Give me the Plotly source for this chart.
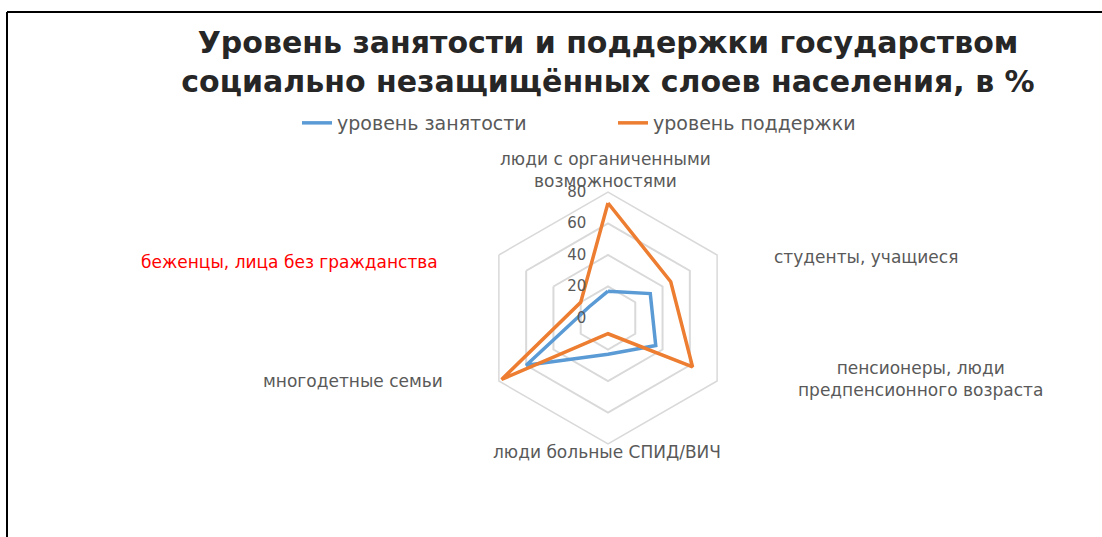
import plotly.graph_objects as go

W, H = 1102, 537

categories = [
    "люди с органиченными возможностями",
    "студенты, учащиеся",
    "пенсионеры, люди предпенсионного возраста",
    "люди больные СПИД/ВИЧ",
    "многодетные семьи",
    "беженцы, лица без гражданства",
]
category_display = [
    "люди с органиченными<br>возможностями",
    "студенты, учащиеся",
    "пенсионеры, люди<br>предпенсионного возраста",
    "люди больные СПИД/ВИЧ",
    "многодетные семьи",
    "беженцы, лица без гражданства",
]
employment = [17, 31, 35, 23, 60, 14]
support = [73, 46, 62, 10, 78, 20]
radial_ticks = [0, 20, 40, 60, 80]
series_names = ["уровень занятости", "уровень поддержки"]

BLUE = "#5B9BD5"
ORANGE = "#ED7D31"
GRID = "#D9D9D9"
LABEL = "#595959"
FONT = "DejaVu Sans"

def closed(vals):
    return list(vals) + [vals[0]]

fig = go.Figure()
fig.add_trace(go.Scatterpolar(
    r=closed(employment), theta=closed(categories), mode="lines",
    name=series_names[0], line=dict(color=BLUE, width=3.5)))
fig.add_trace(go.Scatterpolar(
    r=closed(support), theta=closed(categories), mode="lines",
    name=series_names[1], line=dict(color=ORANGE, width=3.5)))

cx, cy, R = 608, 318, 126
fig.update_layout(
    width=W, height=H,
    margin=dict(l=0, r=0, t=0, b=0),
    paper_bgcolor="white",
    font=dict(family=FONT, color=LABEL, size=14),
    title=dict(
        text="<b>Уровень занятости и поддержки государством<br>социально незащищённых слоев населения, в %</b>",
        x=608 / W, xanchor="center", y=1 - 53 / H, yanchor="middle",
        font=dict(family=FONT, size=30, color="#262626")),
    legend=dict(orientation="h", x=613 / W, xanchor="center",
                y=1 - 123 / H, yanchor="middle",
                font=dict(family=FONT, size=19, color=LABEL),
                entrywidth=271),
    polar=dict(
        domain=dict(x=[(cx - R) / W, (cx + R) / W],
                    y=[1 - (cy + R) / H, 1 - (cy - R) / H]),
        gridshape="linear",
        bgcolor="white",
        radialaxis=dict(range=[0, 80], tickvals=radial_ticks, angle=90,
                        tickangle=90,
                        ticks="outside", ticklen=16,
                        tickcolor="rgba(0,0,0,0)",
                        showline=False, gridcolor=GRID, gridwidth=1.5,
                        side="counterclockwise",
                        tickfont=dict(size=15, color=LABEL)),
        angularaxis=dict(direction="clockwise", rotation=90,
                         showgrid=False, showticklabels=False, ticks="",
                         showline=True, linecolor=GRID, linewidth=1.5),
    ),
    showlegend=True,
)

label_pos = [
    (605, 170, "center"),
    (772, 257, "left"),
    (920, 379, "center"),
    (607, 452, "center"),
    (445, 381, "right"),
    (440, 262, "right"),
]
for i, (txt, (px, py, anchor)) in enumerate(zip(category_display, label_pos)):
    color = "#FF0000" if i == 5 else LABEL
    fig.add_annotation(
        text=txt, x=px / W, y=1 - py / H, xref="paper", yref="paper",
        xanchor=anchor, yanchor="middle", showarrow=False, align="center",
        font=dict(family=FONT, size=17, color=color))

# outer frame (top and left edges)
fig.add_shape(type="line", xref="paper", yref="paper",
              x0=7 / W, x1=1.0, y0=1 - 12 / H, y1=1 - 12 / H,
              line=dict(color="black", width=2))
fig.add_shape(type="line", xref="paper", yref="paper",
              x0=7 / W, x1=7 / W, y0=0, y1=1 - 12 / H,
              line=dict(color="black", width=2))

fig.write_html("out.html", config={"displayModeBar": False},
               post_script="document.body.style.margin='0';")
